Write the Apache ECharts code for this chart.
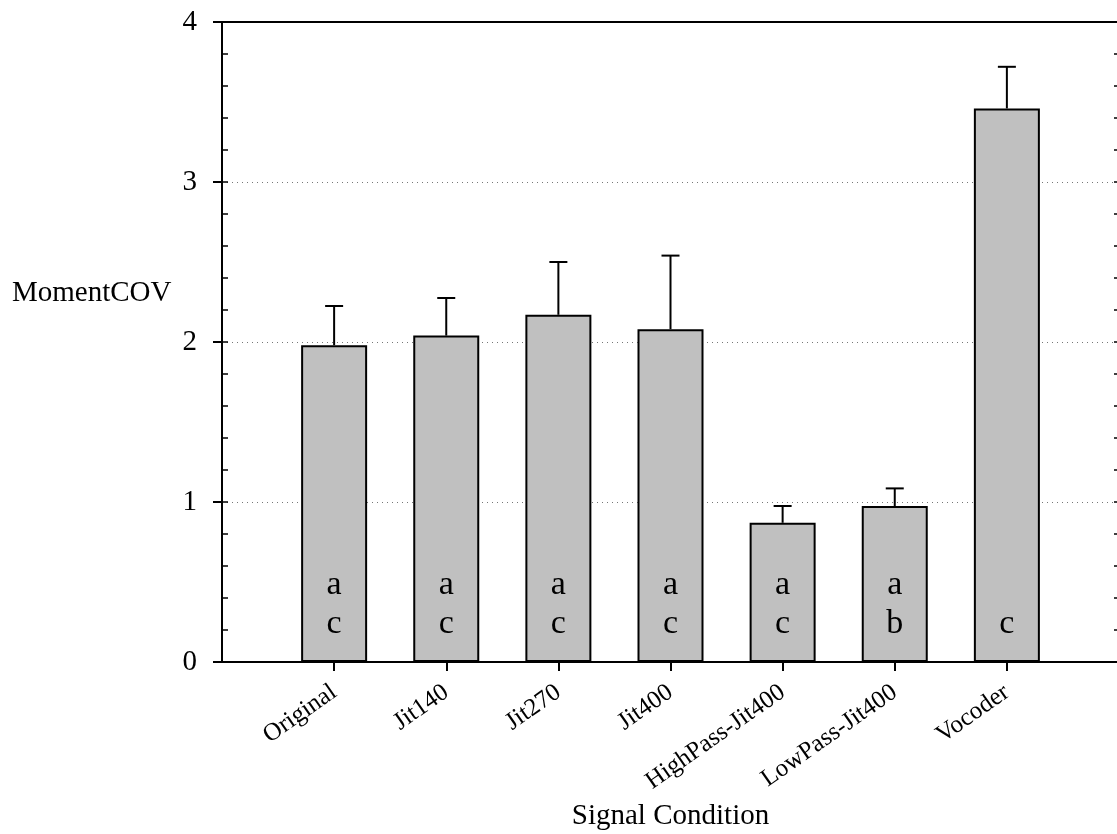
<!DOCTYPE html>
<html>
<head>
<meta charset="utf-8">
<script src="https://cdn.jsdelivr.net/npm/echarts@6/dist/echarts.min.js"></script>
<style>
  html, body { margin: 0; padding: 0; background: #fff; }
  #main { width: 1117px; height: 834px; }
</style>
</head>
<body>
<div id="main"></div>
<script>
var myChart = echarts.init(document.getElementById('main'));

// data
var categories = ['Original', 'Jit140', 'Jit270', 'Jit400', 'HighPass-Jit400', 'LowPass-Jit400', 'Vocoder'];
var means = [1.98, 2.04, 2.17, 2.08, 0.87, 0.975, 3.46];
var errTop = [2.225, 2.275, 2.50, 2.54, 0.975, 1.085, 3.72];
var letterTop = ['a', 'a', 'a', 'a', 'a', 'a', ''];
var letterBottom = ['c', 'c', 'c', 'c', 'c', 'b', 'c'];
var yTicks = [0, 1, 2, 3, 4];

var FONT = 'Liberation Serif';

var positions = categories.map(function (c, i) { return i + 1; });
var barData = [], errData = [], letterData = [];
for (var i = 0; i < categories.length; i++) {
    barData.push([positions[i], means[i]]);
    errData.push([positions[i], means[i], errTop[i]]);
    letterData.push([positions[i], letterTop[i], letterBottom[i]]);
}

option = {
    animation: false,
    grid: { left: 222, right: -2, top: 22, bottom: 172, outerBoundsMode: 'none', containLabel: false },
    xAxis: [{
        type: 'value',
        position: 'bottom',
        min: 0, max: 8, interval: 1,
        axisLine: { onZero: false, lineStyle: { color: '#000', width: 2 } },
        axisTick: { customValues: positions, length: 9, lineStyle: { color: '#000', width: 2 } },
        axisLabel: {
            customValues: positions,
            formatter: function (v) { return categories[v - 1] || ''; },
            rotate: 35, margin: 28,
            fontFamily: FONT, fontSize: 25, color: '#000'
        },
        splitLine: { show: false },
        name: 'Signal Condition',
        nameLocation: 'middle',
        nameGap: 140,
        nameTextStyle: { fontFamily: FONT, fontSize: 29, color: '#000' }
    }, {
        type: 'value',
        position: 'top',
        min: 0, max: 8,
        axisLine: { show: true, onZero: false, lineStyle: { color: '#000', width: 2 } },
        axisTick: { show: false },
        axisLabel: { show: false },
        splitLine: { show: false }
    }],
    yAxis: [{
        type: 'value',
        position: 'left',
        min: yTicks[0], max: yTicks[yTicks.length - 1], interval: 1,
        axisLine: { show: true, onZero: false, lineStyle: { color: '#000', width: 2 } },
        axisTick: { show: true, length: 9, lineStyle: { color: '#000', width: 2 } },
        axisLabel: { fontFamily: FONT, fontSize: 29, color: '#000', margin: 25 },
        splitLine: { show: true, lineStyle: { color: '#777', width: 1, type: [1, 4] } }
    }, {
        type: 'value',
        position: 'left',
        offset: 0,
        min: 0, max: 4, interval: 0.2,
        axisLine: { show: false, onZero: false },
        axisTick: { show: true, inside: true, length: 6, lineStyle: { color: '#000', width: 1.5 } },
        axisLabel: { show: false },
        splitLine: { show: false }
    }, {
        type: 'value',
        position: 'right',
        min: 0, max: 4, interval: 0.2,
        axisLine: { show: true, onZero: false, lineStyle: { color: '#000', width: 2 } },
        axisTick: { show: true, inside: true, length: 5, lineStyle: { color: '#000', width: 1.5 } },
        axisLabel: { show: false },
        splitLine: { show: false }
    }],
    graphic: [{
        type: 'text',
        left: 12, top: 279,
        style: { text: 'MomentCOV', fontFamily: FONT, fontSize: 29, fill: '#000' }
    }],
    series: [{
        type: 'bar',
        xAxisIndex: 0, yAxisIndex: 0,
        data: barData,
        barWidth: 66,
        itemStyle: { color: '#c0c0c0', borderColor: '#000', borderWidth: 2 },
        z: 2
    }, {
        type: 'custom',
        xAxisIndex: 0, yAxisIndex: 0,
        data: errData,
        z: 3,
        renderItem: function (params, api) {
            var x = api.value(0);
            var base = api.coord([x, api.value(1)]);
            var top = api.coord([x, api.value(2)]);
            var style = { stroke: '#000', lineWidth: 2 };
            return {
                type: 'group',
                children: [{
                    type: 'line',
                    shape: { x1: base[0], y1: base[1], x2: top[0], y2: top[1] },
                    style: style
                }, {
                    type: 'line',
                    shape: { x1: top[0] - 9, y1: top[1], x2: top[0] + 9, y2: top[1] },
                    style: style
                }]
            };
        }
    }, {
        type: 'custom',
        xAxisIndex: 0, yAxisIndex: 0,
        data: letterData,
        z: 4,
        encode: { x: 0 },
        renderItem: function (params, api) {
            var x = api.value(0);
            var pTop = api.coord([x, 0.48]);
            var pBot = api.coord([x, 0.24]);
            var d = letterData[params.dataIndex];
            var st = { fontFamily: FONT, fontSize: 34, fill: '#000', align: 'center', verticalAlign: 'middle' };
            return {
                type: 'group',
                children: [{
                    type: 'text', x: pTop[0], y: pTop[1],
                    style: Object.assign({ text: d[1] }, st)
                }, {
                    type: 'text', x: pBot[0], y: pBot[1],
                    style: Object.assign({ text: d[2] }, st)
                }]
            };
        }
    }]
};

myChart.setOption(option);
window.onresize = myChart.resize;
</script>
</body>
</html>
